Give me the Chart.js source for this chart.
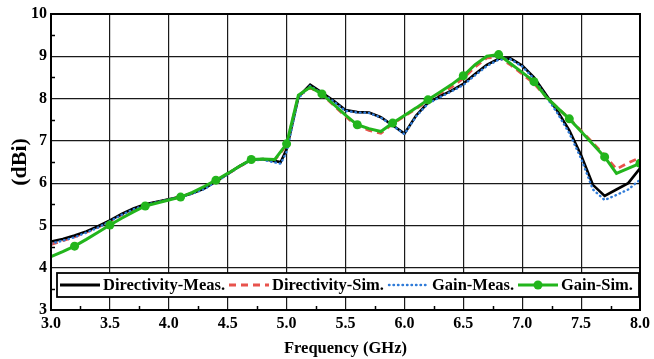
<!DOCTYPE html>
<html>
<head>
<meta charset="utf-8">
<script src="https://cdn.jsdelivr.net/npm/chart.js@4.4.1/dist/chart.umd.min.js"></script>
<style>
  html, body { margin: 0; padding: 0; background: #fff; }
  #wrap { width: 654px; height: 359px; }
</style>
</head>
<body>
<div id="wrap"><canvas id="chart" width="654" height="359"></canvas></div>
<script>
// measured curves (GHz -> dBi)
const measFreq = [3.0, 3.1, 3.2, 3.3, 3.4, 3.5, 3.6, 3.7, 3.8, 3.9, 4.0, 4.1, 4.2, 4.3, 4.4, 4.5, 4.6, 4.7, 4.8, 4.9, 4.95,
  5.0, 5.1, 5.2, 5.3, 5.4, 5.5, 5.6, 5.7, 5.8, 5.9, 6.0, 6.1, 6.2, 6.3, 6.4, 6.5, 6.6, 6.7, 6.8, 6.9,
  7.0, 7.1, 7.2, 7.3, 7.4, 7.5, 7.6, 7.7, 7.8, 7.9, 8.0];
const dirMeas = [4.62, 4.68, 4.76, 4.86, 4.98, 5.12, 5.27, 5.40, 5.50, 5.56, 5.62, 5.68, 5.76, 5.87, 6.04, 6.22, 6.40, 6.55, 6.57, 6.52, 6.50,
  6.80, 8.04, 8.33, 8.14, 7.95, 7.73, 7.68, 7.67, 7.56, 7.37, 7.17, 7.60, 7.90, 8.05, 8.19, 8.35, 8.58, 8.80, 8.94, 8.95,
  8.78, 8.50, 8.10, 7.70, 7.25, 6.66, 5.96, 5.70, 5.85, 6.00, 6.35];
const gainMeas = [4.57, 4.64, 4.72, 4.83, 4.95, 5.10, 5.25, 5.38, 5.48, 5.55, 5.61, 5.67, 5.75, 5.86, 6.03, 6.21, 6.39, 6.54, 6.55, 6.49, 6.46,
  6.74, 8.01, 8.30, 8.12, 7.93, 7.71, 7.67, 7.66, 7.55, 7.36, 7.16, 7.58, 7.88, 8.03, 8.17, 8.32, 8.55, 8.77, 8.92, 8.93,
  8.76, 8.47, 8.06, 7.65, 7.18, 6.58, 5.85, 5.60, 5.72, 5.85, 6.08];

// simulated curves
const simFreq = [3.0, 3.1, 3.2, 3.3, 3.4, 3.5, 3.6, 3.7, 3.8, 3.9, 4.0, 4.1, 4.2, 4.3, 4.4, 4.5, 4.6, 4.7, 4.8, 4.9,
  5.0, 5.1, 5.2, 5.3, 5.4, 5.5, 5.6, 5.7, 5.8, 5.9, 6.0, 6.1, 6.2, 6.3, 6.4, 6.5, 6.6, 6.7, 6.8, 6.9,
  7.0, 7.1, 7.2, 7.3, 7.4, 7.5, 7.6, 7.7, 7.8, 7.9, 8.0];
const dirSim = [4.55, 4.64, 4.73, 4.84, 4.96, 5.10, 5.25, 5.38, 5.49, 5.55, 5.61, 5.67, 5.77, 5.90, 6.06, 6.22, 6.39, 6.55, 6.56, 6.55,
  6.90, 8.06, 8.26, 8.10, 7.84, 7.58, 7.35, 7.25, 7.18, 7.40, 7.58, 7.76, 7.94, 8.10, 8.27, 8.48, 8.75, 8.96, 8.98, 8.80,
  8.58, 8.36, 8.05, 7.78, 7.53, 7.24, 6.95, 6.66, 6.33, 6.48, 6.60];
const gainSim = [4.26, 4.38, 4.51, 4.67, 4.84, 5.01, 5.17, 5.32, 5.46, 5.53, 5.60, 5.67, 5.78, 5.92, 6.07, 6.23, 6.40, 6.56, 6.57, 6.56,
  6.93, 8.08, 8.27, 8.11, 7.86, 7.61, 7.38, 7.29, 7.22, 7.42, 7.60, 7.78, 7.97, 8.15, 8.33, 8.54, 8.80, 9.00, 9.04, 8.83,
  8.62, 8.40, 8.05, 7.78, 7.52, 7.22, 6.92, 6.62, 6.23, 6.35, 6.47];
// symbols on the Gain-Sim. curve
const gainSimMarkers = [3.2, 3.5, 3.8, 4.1, 4.4, 4.7, 5.0, 5.3, 5.6, 5.9, 6.2, 6.5, 6.8, 7.1, 7.4, 7.7, 8.0];

const xTicks = [3.0, 3.5, 4.0, 4.5, 5.0, 5.5, 6.0, 6.5, 7.0, 7.5, 8.0];
const yTicks = [3, 4, 5, 6, 7, 8, 9, 10];

const labelFont = 'Liberation Serif';
const black = '#000000', red = '#e8534c', blue = '#2f7bd8', green = '#22b51c';

const pts = (xs, ys) => xs.map((x, i) => ({ x: x, y: ys[i] }));

const legendItems = [
  { text: 'Directivity-Meas.', color: black, width: 3, dash: [], x: 60 },
  { text: 'Directivity-Sim.', color: red, width: 3, dash: [7, 5], x: 229 },
  { text: 'Gain-Meas.', color: blue, width: 2.4, dash: [0.5, 4], cap: 'round', x: 389 },
  { text: 'Gain-Sim.', color: green, width: 3, dash: [], marker: true, x: 518 }
];

// box, minor ticks and the inset legend
const framePlugin = {
  id: 'frame',
  afterDraw(chart) {
    const { ctx, chartArea: a, scales } = chart;
    const x = scales.x, y = scales.y;
    ctx.save();
    ctx.strokeStyle = black;
    ctx.lineWidth = 1.5;
    ctx.beginPath();
    for (let v = 3.5; v < 10; v += 1) {
      const py = Math.round(y.getPixelForValue(v)) + 0.5;
      ctx.moveTo(a.left, py);
      ctx.lineTo(a.left + 4, py);
    }
    for (let v = 3.25; v < 8; v += 0.5) {
      const px = Math.round(x.getPixelForValue(v)) + 0.5;
      ctx.moveTo(px, a.bottom);
      ctx.lineTo(px, a.bottom - 4);
    }
    ctx.stroke();
    ctx.lineWidth = 2;
    ctx.strokeRect(a.left, a.top, a.right - a.left, a.bottom - a.top);

    // legend
    const bx = 57, by = 273, bw = 582, bh = 24, cy = by + bh / 2;
    ctx.fillStyle = '#ffffff';
    ctx.fillRect(bx, by, bw, bh);
    ctx.lineWidth = 1.8;
    ctx.strokeStyle = black;
    ctx.strokeRect(bx, by, bw, bh);
    ctx.font = 'bold 16.5px "' + labelFont + '"';
    ctx.textBaseline = 'middle';
    ctx.textAlign = 'left';
    legendItems.forEach(it => {
      ctx.save();
      ctx.strokeStyle = it.color;
      ctx.lineWidth = it.width;
      ctx.setLineDash(it.dash);
      ctx.lineCap = it.cap || 'butt';
      ctx.beginPath();
      ctx.moveTo(it.x, cy);
      ctx.lineTo(it.x + 40, cy);
      ctx.stroke();
      if (it.marker) {
        ctx.fillStyle = it.color;
        ctx.beginPath();
        ctx.arc(it.x + 20, cy, 4.5, 0, Math.PI * 2);
        ctx.fill();
      }
      ctx.restore();
      ctx.fillStyle = black;
      ctx.fillText(it.text, it.x + 43, cy + 1);
    });
    ctx.restore();
  }
};

new Chart(document.getElementById('chart'), {
  type: 'line',
  data: {
    datasets: [
      {
        label: 'Gain-Sim.',
        data: pts(simFreq, gainSim),
        borderColor: green,
        backgroundColor: green,
        borderWidth: 3,
        pointRadius: c => gainSimMarkers.some(f => Math.abs(f - simFreq[c.dataIndex]) < 1e-6) ? 4.5 : 0,
        pointBackgroundColor: green,
        pointBorderWidth: 0,
        order: 0
      },
      {
        label: 'Gain-Meas.',
        data: pts(measFreq, gainMeas),
        borderColor: blue,
        borderWidth: 2.4,
        borderDash: [0.5, 4],
        borderCapStyle: 'round',
        pointRadius: 0,
        order: 1
      },
      {
        label: 'Directivity-Meas.',
        data: pts(measFreq, dirMeas),
        borderColor: black,
        borderWidth: 2.6,
        pointRadius: 0,
        order: 2
      },
      {
        label: 'Directivity-Sim.',
        data: pts(simFreq, dirSim),
        borderColor: red,
        borderWidth: 2.8,
        borderDash: [7, 5],
        pointRadius: 0,
        order: 3
      }
    ]
  },
  options: {
    responsive: false,
    animation: false,
    devicePixelRatio: 1,
    layout: { padding: { left: 0, right: 10, top: 14, bottom: 0 } },
    plugins: {
      legend: { display: false },
      tooltip: { enabled: false }
    },
    elements: { line: { tension: 0 } },
    scales: {
      x: {
        type: 'linear',
        min: 3,
        max: 8,
        afterBuildTicks: s => { s.ticks = xTicks.map(v => ({ value: v })); },
        afterFit: s => { s.height = 49; },
        ticks: {
          callback: v => v.toFixed(1),
          color: black,
          padding: 4,
          maxRotation: 0,
          font: { family: labelFont, size: 16, weight: 'bold' }
        },
        grid: { color: '#1a1a1a', lineWidth: 1.2, drawTicks: false },
        border: { display: true, color: black, width: 2 },
        title: {
          display: true,
          text: 'Frequency (GHz)',
          color: black,
          padding: { top: 3, bottom: 0 },
          font: { family: labelFont, size: 16.5, weight: 'bold' }
        }
      },
      y: {
        min: 3,
        max: 10,
        afterBuildTicks: s => { s.ticks = yTicks.map(v => ({ value: v })); },
        afterFit: s => { s.width = 51; },
        ticks: {
          color: black,
          padding: 4,
          font: { family: labelFont, size: 16, weight: 'bold' }
        },
        grid: { color: '#1a1a1a', lineWidth: 1.2, drawTicks: false },
        border: { display: true, color: black, width: 2 },
        title: {
          display: true,
          text: '(dBi)',
          color: black,
          padding: { top: 7, bottom: 0 },
          font: { family: labelFont, size: 22, weight: 'bold' }
        }
      }
    }
  },
  plugins: [framePlugin]
});
</script>
</body>
</html>
